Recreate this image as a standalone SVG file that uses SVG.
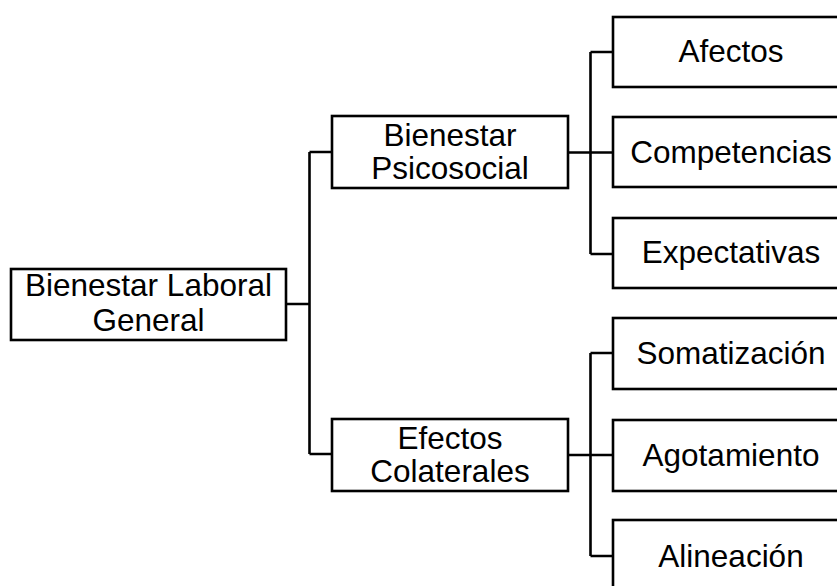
<svg xmlns="http://www.w3.org/2000/svg" width="837" height="586" viewBox="0 0 837 586">
<style>
.box{fill:#fff;stroke:#000;stroke-width:2.6}
.ln{fill:none;stroke:#000;stroke-width:2.6}
text{font-family:"Liberation Sans",Arial,sans-serif;font-size:31.5px;fill:#000;text-anchor:middle}
</style>
<rect width="837" height="586" fill="#fff"/>
<g id="connectors">
<path class="ln" d="M286 304H309.5M309.5 152V454M309.5 152H332M309.5 454H332"/>
<path class="ln" d="M568 152.5H590.5M590.5 52V254M590.5 52H613M590.5 152.5H613M590.5 254H613"/>
<path class="ln" d="M568 455H590.5M590.5 353V556M590.5 353H613M590.5 455H613M590.5 556H613"/>
</g>
<g id="root">
<rect class="box" x="11" y="269" width="275" height="71"/>
<text x="148.5" y="296">Bienestar Laboral</text>
<text x="148.5" y="331">General</text>
</g>
<g id="psicosocial">
<rect class="box" x="332" y="116" width="236" height="72"/>
<text x="450" y="146">Bienestar</text>
<text x="450" y="179">Psicosocial</text>
</g>
<g id="colaterales">
<rect class="box" x="332" y="419" width="236" height="72"/>
<text x="450" y="449">Efectos</text>
<text x="450" y="482">Colaterales</text>
</g>
<g id="afectos">
<rect class="box" x="613" y="17" width="236" height="70"/>
<text x="731" y="62">Afectos</text>
</g>
<g id="competencias">
<rect class="box" x="613" y="117" width="236" height="70"/>
<text x="731" y="163">Competencias</text>
</g>
<g id="expectativas">
<rect class="box" x="613" y="218" width="236" height="70"/>
<text x="731" y="263">Expectativas</text>
</g>
<g id="somatizacion">
<rect class="box" x="613" y="318" width="236" height="71"/>
<text x="731" y="364">Somatización</text>
</g>
<g id="agotamiento">
<rect class="box" x="613" y="420" width="236" height="71"/>
<text x="731" y="466">Agotamiento</text>
</g>
<g id="alineacion">
<rect class="box" x="613" y="520" width="236" height="71"/>
<text x="731" y="567">Alineación</text>
</g>
</svg>
